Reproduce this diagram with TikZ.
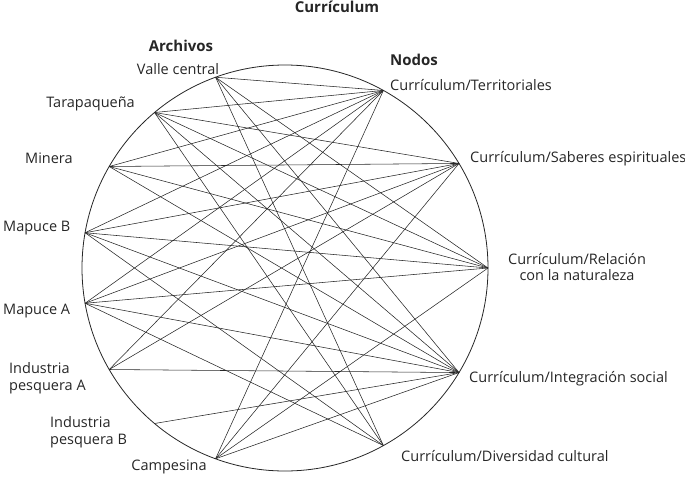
\documentclass[tikz,border=0pt]{standalone}
\usepackage{fontspec}
\setmainfont{Open Sans}
\usetikzlibrary{calc}
\begin{document}
\begin{tikzpicture}[x=1pt,y=-1pt,
  edge/.style={line width=0.55pt, black!85},
  lbl/.style={font=\fontsize{14.5}{16.5}\selectfont, inner sep=0pt, text=black!85},
  hd/.style={font=\fontsize{15}{17}\selectfont\bfseries, inner sep=0pt, text=black!85}]
\useasboundingbox (0,0) rectangle (685,477);
\coordinate (O) at (285,268);
\draw[line width=0.8pt, black!85] (O) circle (203);
% archive points
\coordinate (V)  at ($(O)+(-110:203)$);
\coordinate (T)  at ($(O)+(-130:203)$);
\coordinate (M)  at ($(O)+(-150:203)$);
\coordinate (MB) at ($(O)+(-170:203)$);
\coordinate (MA) at ($(O)+(170:203)$);
\coordinate (IA) at ($(O)+(150:203)$);
\coordinate (IB) at ($(O)+(130:203)$);
\coordinate (C)  at ($(O)+(110:203)$);
% node points
\coordinate (Te) at ($(O)+(-61:203)$);
\coordinate (S)  at ($(O)+(-31:203)$);
\coordinate (R)  at ($(O)+(0:203)$);
\coordinate (I)  at ($(O)+(31:203)$);
\coordinate (D)  at ($(O)+(61:203)$);
% edges
\foreach \a/\b in {V/Te,V/R,V/I,V/D,
  T/Te,T/S,T/R,T/I,T/D,
  M/Te,M/S,M/R,M/I,
  MB/Te,MB/S,MB/R,MB/I,MB/D,
  MA/Te,MA/S,MA/R,MA/I,MA/D,
  IA/Te,IA/S,IA/I,
  IB/I,
  C/Te,C/S,C/R,C/I}
  \draw[edge] (\a) -- (\b);
% headings
\node[hd] (title) at (337,7) {Currículum};
\node[hd] (arch) at (181,46) {Archivos};
\node[hd, anchor=west] (nodos) at (390,60) {Nodos};
% archive labels
\node[lbl] (lV) at (178,69) {Valle central};
\node[lbl, anchor=east] (lT) at (135,104) {Tarapaqueña};
\node[lbl, anchor=west] (lM) at (25,158) {Minera};
\node[lbl, anchor=west] (lMB) at (3,228) {Mapuce B};
\node[lbl, anchor=west] (lMA) at (3,311) {Mapuce A};
\node[lbl, anchor=west, align=left] (lIA) at (9,378) {Industria\\pesquera A};
\node[lbl, anchor=west, align=left] (lIB) at (50,432) {Industria\\pesquera B};
\node[lbl] (lC) at (169,467) {Campesina};
% node labels
\node[lbl, anchor=west] (lTe) at (390,85) {Currículum/Territoriales};
\node[lbl, anchor=west] (lS) at (470,159) {Currículum/Saberes espirituales};
\node[lbl, align=center] (lR) at (577,267) {Currículum/Relación\\con la naturaleza};
\node[lbl, anchor=west] (lI) at (469,379) {Currículum/Integración social};
\node[lbl, anchor=west] (lD) at (401,456) {Currículum/Diversidad cultural};
\end{tikzpicture}
\end{document}
